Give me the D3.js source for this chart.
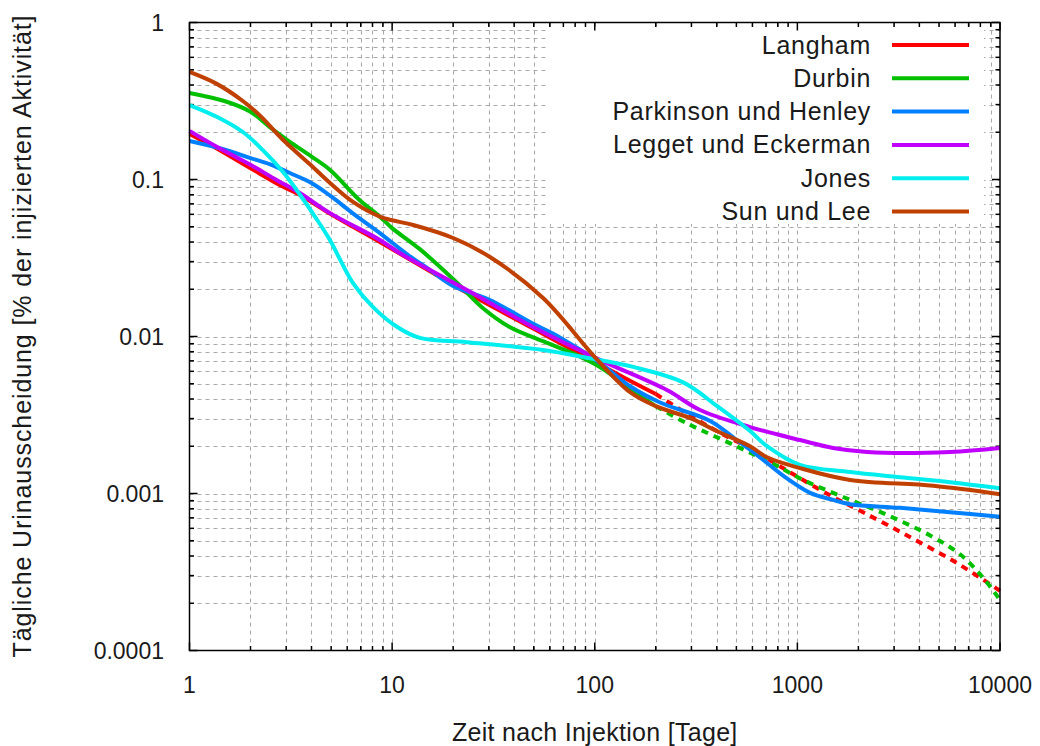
<!DOCTYPE html>
<html><head><meta charset="utf-8">
<script src="https://cdn.jsdelivr.net/npm/d3@7"></script>
<style>
body{margin:0;background:#fff;}
svg{display:block;font-family:"Liberation Sans",Arial,sans-serif;}
</style></head>
<body><svg id="chart" width="1040" height="746"></svg>
<script>
// ---- data (days, % of injected activity per day) ----
const seriesNames = ["Langham","Durbin","Parkinson und Henley","Legget und Eckerman","Jones","Sun und Lee"];
const seriesColors = ["#ff0000","#00c000","#0080ff","#c000ff","#00eeee","#c04000"];

const langham = [[1,0.195],[1.37,0.157],[2,0.118],[2.8,0.092],[3.5,0.08],[5,0.06],[8.7,0.04],[15.4,0.026],[23.4,0.019],[50,0.0112],[100,0.0069],[150,0.0052],[200,0.0043]];
const langhamExtrap = [[200,0.0043],[300,0.0031],[400,0.0025],[600,0.0019],[800,0.00152],[1000,0.00128],[1500,0.00095],[2110,0.00076],[3480,0.00054],[6140,0.00036],[10000,0.00024]];
const durbin = [[1,0.356],[1.5,0.315],[2,0.27],[2.5,0.215],[3.1,0.175],[4,0.14],[4.94,0.115],[6.9,0.074],[8.7,0.058],[10,0.049],[13.7,0.036],[20.9,0.022],[28,0.0152],[38,0.0115],[56,0.0093],[78,0.0078],[106,0.0064],[167,0.0042],[200,0.0036]];
const durbinExtrap = [[200,0.0036],[285,0.0028],[500,0.002],[794,0.0015],[1067,0.00122],[1682,0.00095],[2773,0.00073],[4520,0.00054],[6350,0.00041],[8260,0.00029],[10000,0.00021]];
const parkinson = [[1,0.176],[1.5,0.155],[2,0.137],[2.5,0.125],[3.13,0.11],[4,0.095],[5,0.078],[6.5,0.06],[8.7,0.0456],[12,0.033],[15.4,0.0265],[20,0.021],[30,0.0172],[50,0.012],[67,0.0099],[106,0.0068],[150,0.0048],[210,0.0038],[371,0.0029],[500,0.0022],[654,0.0017],[850,0.0013],[1156,0.00101],[1500,0.00091],[1820,0.000855],[3213,0.00081],[5670,0.00076],[10000,0.00071]];
const legget = [[1,0.204],[1.37,0.161],[2,0.124],[2.7,0.099],[3.5,0.082],[4.94,0.0611],[8.7,0.0412],[10.9,0.034],[15.4,0.0265],[23.4,0.0198],[49.6,0.0115],[106,0.0071],[227,0.00456],[331,0.0034],[584,0.00265],[1030,0.00219],[1500,0.00195],[2208,0.00184],[5670,0.00184],[10000,0.00195]];
const jones = [[1,0.298],[1.37,0.25],[1.84,0.2],[2.3,0.154],[2.89,0.112],[3.51,0.08],[4.2,0.057],[4.94,0.041],[5.6,0.03],[6.41,0.0219],[8.05,0.0154],[10.6,0.0115],[13.7,0.0098],[23.4,0.0092],[55.6,0.0082],[87.5,0.0074],[155,0.0064],[273,0.0051],[402,0.0036],[584,0.0025],[708,0.002],[1030,0.00152],[1820,0.00137],[3213,0.00127],[5670,0.00118],[10000,0.00108]];
const sunLee = [[1,0.484],[1.37,0.405],[1.84,0.315],[2.23,0.255],[2.89,0.179],[3.93,0.125],[4.94,0.095],[6.41,0.072],[8.7,0.058],[10,0.055],[12.7,0.0513],[20,0.0424],[30.4,0.0321],[55.6,0.0176],[103,0.0071],[150,0.0044],[200,0.0036],[300,0.003],[400,0.0025],[584,0.002],[708,0.0017],[1030,0.00145],[1820,0.00122],[4680,0.00112],[10000,0.00099]];

const xTicks = [1,10,100,1000,10000];
const xTickLabels = ["1","10","100","1000","10000"];
const yTicks = [1,0.1,0.01,0.001,0.0001];
const yTickLabels = ["1","0.1","0.01","0.001","0.0001"];
const xTitle = "Zeit nach Injektion [Tage]";
const yTitle = "Tägliche Urinausscheidung [% der injizierten Aktivität]";

// ---- layout ----
const L = 189.5, R = 1000, T = 22.5, B = 650.5;
const svg = d3.select("#chart");
const x = d3.scaleLog().domain([1,10000]).range([L,R]);
const y = d3.scaleLog().domain([0.0001,1]).range([B,T]);

function minorVals(lo, hi){
  const v=[];
  for(let e=Math.log10(lo); e<Math.log10(hi)-1e-9; e++){
    for(let m=1;m<=9;m++){ v.push(m*Math.pow(10,e)); }
  }
  v.push(hi);
  return v;
}
const xAll = minorVals(1,10000);
const yAll = minorVals(0.0001,1);
const isMajor = v => Math.abs(Math.log10(v)-Math.round(Math.log10(v)))<1e-9;

// grid
const grid = svg.append("g").attr("stroke","#a8a8a8").attr("stroke-width",1).attr("stroke-dasharray","4,4").attr("fill","none");
xAll.filter(v=>v>1 && v<10000).forEach(v=>{
  const px=Math.round(x(v))+0.5;
  grid.append("line").attr("x1",px).attr("x2",px).attr("y1",T).attr("y2",B);
});
yAll.filter(v=>v>0.0001 && v<1).forEach(v=>{
  const py=Math.round(y(v))+0.5;
  grid.append("line").attr("x1",L).attr("x2",R).attr("y1",py).attr("y2",py);
});

// legend background
svg.append("rect").attr("x",548).attr("y",30).attr("width",436).attr("height",194).attr("fill","#fff");

// ticks
const tk = svg.append("g").attr("stroke","#000").attr("stroke-width",1.5);
xAll.forEach(v=>{
  const px=x(v), len=isMajor(v)?8:4.5;
  tk.append("line").attr("x1",px).attr("x2",px).attr("y1",B).attr("y2",B-len);
  tk.append("line").attr("x1",px).attr("x2",px).attr("y1",T).attr("y2",T+len);
});
yAll.forEach(v=>{
  const py=y(v), len=isMajor(v)?8:4.5;
  tk.append("line").attr("x1",L).attr("x2",L+len).attr("y1",py).attr("y2",py);
  tk.append("line").attr("x1",R).attr("x2",R-len).attr("y1",py).attr("y2",py);
});

// tick labels
const tl = svg.append("g").attr("font-size",23).attr("fill","#1a1a1a");
xTicks.forEach((v,i)=>{
  tl.append("text").attr("x",x(v)).attr("y",693).attr("text-anchor","middle").text(xTickLabels[i]);
});
yTicks.forEach((v,i)=>{
  tl.append("text").attr("x",164).attr("y",y(v)+8).attr("text-anchor","end").text(yTickLabels[i]);
});

// axis titles
svg.append("text").attr("x",(L+R)/2).attr("y",741).attr("text-anchor","middle").attr("font-size",25).attr("letter-spacing",0.3).attr("fill","#1a1a1a").text(xTitle);
svg.append("text").attr("transform",`translate(31,336) rotate(-90)`).attr("text-anchor","middle").attr("font-size",25).attr("letter-spacing",0.9).attr("fill","#1a1a1a").text(yTitle);

// curves
const line = d3.line().x(d=>x(d[0])).y(d=>y(d[1])).curve(d3.curveCatmullRom.alpha(0.5));
const plot = svg.append("g").attr("fill","none").attr("stroke-width",4).attr("stroke-linejoin","round");
const drawList = [
  [langham, 0, null],[langhamExtrap, 0, "7,6"],
  [durbin, 1, null],[durbinExtrap, 1, "7,6"],
  [parkinson, 2, null],[legget, 3, null],[jones, 4, null],[sunLee, 5, null]
];
drawList.forEach(([data,ci,dash])=>{
  const p = plot.append("path").attr("d",line(data)).attr("stroke",seriesColors[ci]);
  if(dash) p.attr("stroke-dasharray",dash);
});

// frame
svg.append("rect").attr("x",L).attr("y",T).attr("width",R-L).attr("height",B-T).attr("fill","none").attr("stroke","#000").attr("stroke-width",1.5);

// legend
const lg = svg.append("g");
seriesNames.forEach((n,i)=>{
  const cy = 45 + i*33.3;
  lg.append("text").attr("x",871).attr("y",cy+8.5).attr("text-anchor","end").attr("font-size",25).attr("letter-spacing",0.7).attr("fill","#1a1a1a").text(n);
  lg.append("line").attr("x1",892).attr("x2",969).attr("y1",cy).attr("y2",cy).attr("stroke",seriesColors[i]).attr("stroke-width",4);
});
</script></body></html>
